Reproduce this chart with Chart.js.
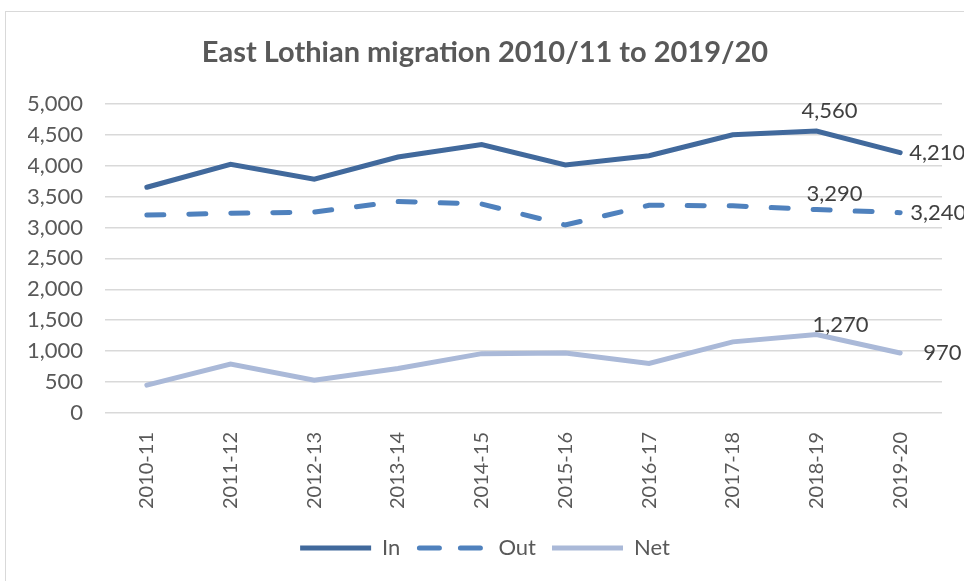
<!DOCTYPE html>
<html>
<head>
<meta charset="utf-8">
<script src="https://cdn.jsdelivr.net/npm/chart.js@4"></script>
<style>
  html, body { margin: 0; padding: 0; background: #fff; overflow: hidden; }
  #frame { position: absolute; left: 5px; top: 11px; width: 980px; height: 600px; border: 1px solid #d9d9d9; }
  #wrap { position: absolute; left: 0; top: 0; width: 964px; height: 581px; }
</style>
</head>
<body>
<div id="frame"></div>
<div id="wrap"><canvas id="myChart"></canvas></div>
<script>
var years = ['2010-11', '2011-12', '2012-13', '2013-14', '2014-15', '2015-16', '2016-17', '2017-18', '2018-19', '2019-20'];
var inValues = [3650, 4020, 3780, 4140, 4340, 4010, 4160, 4500, 4560, 4210];
var outValues = [3200, 3230, 3250, 3420, 3380, 3040, 3360, 3350, 3290, 3240];
var netValues = [450, 790, 530, 720, 960, 970, 800, 1150, 1270, 970];

// which points get a value label, and where (Excel placed them by hand)
var labelIndex = [8, 9];
var labelShift = {
  In:  [[13, -20], [9, 0]],
  Out: [[18, -16], [10, 0]],
  Net: [[24, -10], [23, 0]]
};

var fontName = 'Lato, "Open Sans", sans-serif';
var textGray = '#595959';
var dashPattern = [17, 25];
var legendLine = 71;

// draw the few data labels next to the last two points
var pointLabels = {
  id: 'pointLabels',
  afterDatasetsDraw: function(chart) {
    var ctx = chart.ctx;
    ctx.save();
    ctx.font = '22px ' + fontName;
    ctx.fillStyle = '#404040';
    ctx.textBaseline = 'middle';
    chart.data.datasets.forEach(function(ds, d) {
      var meta = chart.getDatasetMeta(d);
      labelIndex.forEach(function(idx, k) {
        var pt = meta.data[idx];
        var off = labelShift[ds.label][k];
        ctx.textAlign = k == 0 ? 'center' : 'left';
        ctx.fillText(ds.data[idx].toLocaleString('en-US'), pt.x + off[0], pt.y + off[1]);
      });
    });
    ctx.restore();
  }
};

// the legend's point style ignores line dash, so draw the dashed one here
var dashedLegend = {
  id: 'dashedLegend',
  afterDraw: function(chart) {
    var lg = chart.legend;
    if (!lg || !lg.legendHitBoxes) return;
    var ctx = chart.ctx;
    chart.data.datasets.forEach(function(ds, i) {
      if (!ds.borderDash) return;
      var box = lg.legendHitBoxes[i];
      var y = box.top + box.height / 2;
      ctx.save();
      ctx.strokeStyle = ds.borderColor;
      ctx.lineWidth = ds.borderWidth;
      ctx.lineCap = 'round';
      ctx.setLineDash([20, 21]);
      ctx.beginPath();
      ctx.moveTo(box.left + 3, y);
      ctx.lineTo(box.left + legendLine, y);
      ctx.stroke();
      ctx.restore();
    });
  }
};

var ctx1 = document.getElementById('myChart');
var chart = new Chart(ctx1, {
  type: 'line',
  data: {
    labels: years,
    datasets: [{
      label: 'In',
      data: inValues,
      borderColor: '#41699C',
      backgroundColor: '#41699C',
      borderWidth: 5,
      borderCapStyle: 'round',
      pointRadius: 0,
      tension: 0
    },
    {
      label: 'Out',
      data: outValues,
      borderColor: '#4F81BD',
      backgroundColor: '#4F81BD',
      borderWidth: 5,
      borderDash: dashPattern,
      borderCapStyle: 'round',
      pointRadius: 0,
      tension: 0
    },
    {
      label: 'Net',
      data: netValues,
      borderColor: '#AAB9D8',
      backgroundColor: '#AAB9D8',
      borderWidth: 5,
      borderCapStyle: 'round',
      pointRadius: 0,
      tension: 0
    }]
  },
  options: {
    responsive: true,
    maintainAspectRatio: false,
    animation: false,
    layout: { padding: { left: 28, right: 22, top: 0, bottom: 12 } },
    scales: {
      x: {
        offset: true,
        grid: { display: false, drawTicks: false },
        border: { display: false },
        ticks: {
          minRotation: 90,
          maxRotation: 90,
          padding: 19,
          color: textGray,
          font: { family: fontName, size: 20 }
        },
        afterFit: function(scale) { scale.height = 108; }
      },
      y: {
        min: 0,
        max: 5000,
        grid: { color: '#d9d9d9', lineWidth: 1.5, drawTicks: false },
        border: { display: false },
        ticks: {
          stepSize: 500,
          padding: 22,
          color: textGray,
          font: { family: fontName, size: 22 },
          callback: function(v) { return v.toLocaleString('en-US'); }
        },
        afterFit: function(scale) { scale.width = 77; }
      }
    },
    plugins: {
      title: {
        display: true,
        text: 'East Lothian migration 2010/11 to 2019/20',
        color: textGray,
        font: { family: fontName, size: 29, weight: 'bold' },
        padding: { top: 35, bottom: 34 }
      },
      legend: {
        position: 'bottom',
        labels: {
          usePointStyle: true,
          pointStyle: 'line',
          pointStyleWidth: legendLine,
          padding: 16,
          color: textGray,
          font: { family: fontName, size: 22 },
          generateLabels: function(chart) {
            var items = Chart.defaults.plugins.legend.labels.generateLabels(chart);
            items.forEach(function(it) {
              if (chart.data.datasets[it.datasetIndex].borderDash) it.strokeStyle = 'rgba(0,0,0,0)';
            });
            return items;
          }
        }
      },
      tooltip: { enabled: false }
    }
  },
  plugins: [pointLabels, dashedLegend]
});
</script>
</body>
</html>
